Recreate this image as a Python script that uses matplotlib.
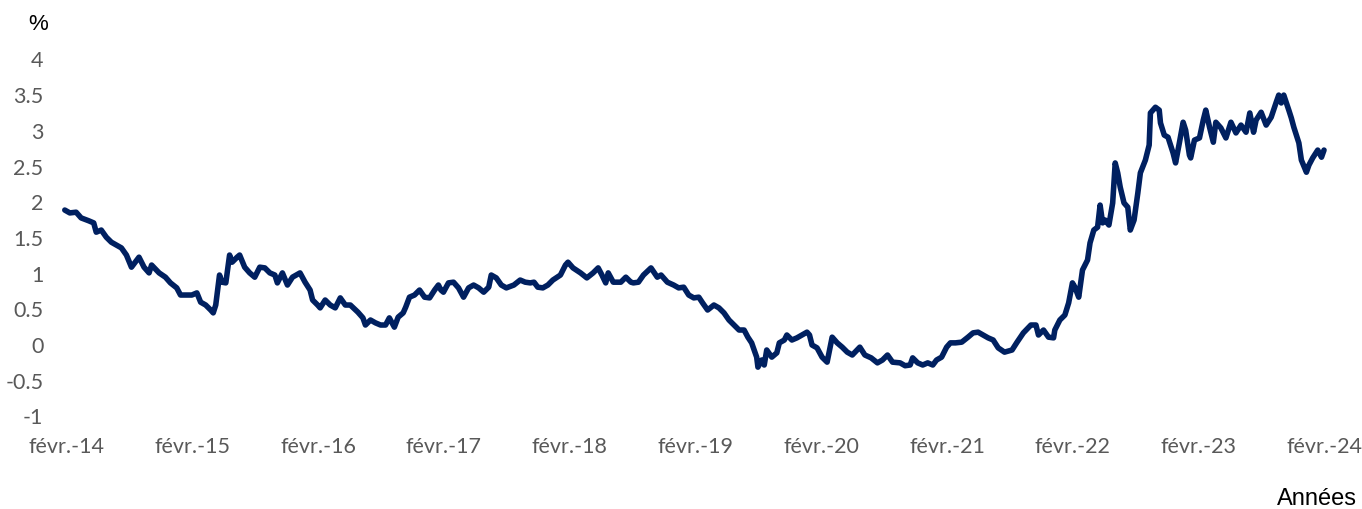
import matplotlib
matplotlib.use("Agg")
import matplotlib.pyplot as plt

# Decimal years and 10-year yield (%)
years = [
    2014.07, 2014.11, 2014.16, 2014.20, 2014.26, 2014.30, 2014.32, 2014.36, 2014.40, 2014.44,
    2014.48, 2014.52, 2014.56, 2014.60, 2014.66, 2014.70, 2014.74, 2014.76, 2014.82, 2014.87,
    2014.91, 2014.96, 2014.99, 2015.03, 2015.08, 2015.12, 2015.15, 2015.19, 2015.23, 2015.25,
    2015.27, 2015.30, 2015.32, 2015.35, 2015.38, 2015.40, 2015.44, 2015.46, 2015.50, 2015.54,
    2015.58, 2015.62, 2015.66, 2015.70, 2015.74, 2015.76, 2015.80, 2015.84, 2015.88, 2015.94,
    2015.98, 2016.02, 2016.04, 2016.08, 2016.10, 2016.14, 2016.18, 2016.22, 2016.26, 2016.30,
    2016.34, 2016.40, 2016.44, 2016.46, 2016.50, 2016.54, 2016.58, 2016.62, 2016.65, 2016.69,
    2016.72, 2016.76, 2016.78, 2016.81, 2016.85, 2016.89, 2016.93, 2016.97, 2017.01, 2017.04,
    2017.06, 2017.08, 2017.12, 2017.16, 2017.20, 2017.24, 2017.28, 2017.32, 2017.36, 2017.40,
    2017.44, 2017.46, 2017.50, 2017.54, 2017.58, 2017.64, 2017.69, 2017.73, 2017.77, 2017.80,
    2017.83, 2017.87, 2017.91, 2017.95, 2018.01, 2018.05, 2018.07, 2018.11, 2018.17, 2018.22,
    2018.27, 2018.31, 2018.34, 2018.37, 2018.39, 2018.43, 2018.49, 2018.53, 2018.57, 2018.59,
    2018.63, 2018.67, 2018.73, 2018.78, 2018.81, 2018.86, 2018.91, 2018.95, 2018.99, 2019.03,
    2019.07, 2019.11, 2019.14, 2019.18, 2019.23, 2019.27, 2019.31, 2019.35, 2019.39, 2019.43,
    2019.47, 2019.50, 2019.53, 2019.57, 2019.58, 2019.61, 2019.63, 2019.65, 2019.69, 2019.73,
    2019.75, 2019.79, 2019.81, 2019.85, 2019.89, 2019.93, 2019.97, 2019.99, 2020.01, 2020.05,
    2020.09, 2020.13, 2020.17, 2020.21, 2020.25, 2020.29, 2020.33, 2020.39, 2020.43, 2020.48,
    2020.53, 2020.57, 2020.61, 2020.65, 2020.71, 2020.75, 2020.79, 2020.81, 2020.85, 2020.89,
    2020.93, 2020.97, 2021.00, 2021.04, 2021.08, 2021.11, 2021.15, 2021.20, 2021.25, 2021.29,
    2021.33, 2021.37, 2021.41, 2021.45, 2021.49, 2021.54, 2021.60, 2021.64, 2021.69, 2021.75,
    2021.79, 2021.81, 2021.85, 2021.89, 2021.93, 2021.94, 2021.98, 2022.02, 2022.05, 2022.08,
    2022.10, 2022.13, 2022.16, 2022.20, 2022.22, 2022.25, 2022.28, 2022.30, 2022.32, 2022.34,
    2022.37, 2022.40, 2022.42, 2022.44, 2022.46, 2022.49, 2022.52, 2022.54, 2022.57, 2022.60,
    2022.62, 2022.66, 2022.69, 2022.70, 2022.74, 2022.77, 2022.78, 2022.81, 2022.84, 2022.88,
    2022.90, 2022.93, 2022.96, 2022.98, 2023.01, 2023.02, 2023.05, 2023.09, 2023.12, 2023.14,
    2023.17, 2023.20, 2023.22, 2023.26, 2023.30, 2023.34, 2023.38, 2023.42, 2023.46, 2023.49,
    2023.52, 2023.54, 2023.58, 2023.62, 2023.66, 2023.70, 2023.72, 2023.74, 2023.76, 2023.80,
    2023.82, 2023.84, 2023.88, 2023.90, 2023.94, 2023.96, 2023.99, 2024.03, 2024.06, 2024.08,
]
yields = [
    1.89, 1.85, 1.86, 1.78, 1.74, 1.71, 1.58, 1.61, 1.51, 1.44,
    1.40, 1.36, 1.26, 1.09, 1.23, 1.09, 1.01, 1.12, 1.01, 0.95,
    0.87, 0.80, 0.70, 0.70, 0.70, 0.73, 0.60, 0.56, 0.49, 0.45,
    0.56, 0.98, 0.88, 0.87, 1.26, 1.16, 1.23, 1.26, 1.09, 1.01,
    0.95, 1.09, 1.08, 1.01, 0.98, 0.87, 1.01, 0.84, 0.95, 1.01,
    0.88, 0.77, 0.63, 0.56, 0.52, 0.63, 0.56, 0.52, 0.66, 0.56,
    0.56, 0.46, 0.38, 0.28, 0.35, 0.31, 0.28, 0.28, 0.38, 0.25,
    0.39, 0.45, 0.53, 0.67, 0.70, 0.77, 0.67, 0.66, 0.77, 0.84,
    0.77, 0.74, 0.87, 0.88, 0.80, 0.67, 0.80, 0.84, 0.80, 0.74,
    0.81, 0.98, 0.94, 0.84, 0.80, 0.84, 0.91, 0.88, 0.87, 0.88,
    0.81, 0.80, 0.84, 0.91, 0.98, 1.12, 1.16, 1.08, 1.01, 0.94,
    1.01, 1.08, 0.98, 0.87, 1.01, 0.88, 0.88, 0.95, 0.88, 0.87,
    0.88, 0.98, 1.08, 0.95, 0.98, 0.88, 0.84, 0.80, 0.81, 0.70,
    0.66, 0.67, 0.59, 0.49, 0.56, 0.52, 0.45, 0.35, 0.28, 0.21,
    0.21, 0.11, 0.03, -0.17, -0.31, -0.21, -0.28, -0.07, -0.17, -0.11,
    0.03, 0.07, 0.14, 0.07, 0.10, 0.14, 0.18, 0.14, 0.00, -0.04,
    -0.17, -0.24, 0.11, 0.03, -0.03, -0.10, -0.14, -0.03, -0.14, -0.18,
    -0.25, -0.21, -0.14, -0.24, -0.25, -0.29, -0.28, -0.18, -0.25, -0.28,
    -0.25, -0.28, -0.21, -0.17, -0.03, 0.03, 0.03, 0.04, 0.11, 0.17,
    0.18, 0.14, 0.10, 0.07, -0.04, -0.10, -0.07, 0.04, 0.17, 0.28,
    0.28, 0.14, 0.21, 0.11, 0.10, 0.21, 0.35, 0.42, 0.59, 0.87,
    0.81, 0.67, 1.05, 1.19, 1.43, 1.61, 1.65, 1.96, 1.71, 1.75,
    1.68, 1.99, 2.55, 2.41, 2.21, 1.99, 1.93, 1.61, 1.75, 2.13,
    2.41, 2.59, 2.80, 3.25, 3.33, 3.29, 3.11, 2.94, 2.91, 2.69,
    2.55, 2.83, 3.12, 3.01, 2.66, 2.62, 2.87, 2.90, 3.15, 3.29,
    3.05, 2.84, 3.12, 3.04, 2.90, 3.12, 2.97, 3.08, 2.98, 3.25,
    2.98, 3.15, 3.26, 3.08, 3.19, 3.40, 3.50, 3.39, 3.50, 3.29,
    3.18, 3.05, 2.83, 2.59, 2.42, 2.52, 2.62, 2.73, 2.63, 2.73,
]

tick_years = list(range(2014, 2025))
tick_labels = ["févr.-%02d" % (y % 100) for y in tick_years]
y_ticks = [-1, -0.5, 0, 0.5, 1, 1.5, 2, 2.5, 3, 3.5, 4]
y_labels = ["-1", "-0.5", "0", "0.5", "1", "1.5", "2", "2.5", "3", "3.5", "4"]

fig = plt.figure(figsize=(13.62, 5.09), dpi=100)
ax = fig.add_axes([0.0411, 0.1819, 0.9421, 0.7014])

ax.plot(years, yields, color="#002060", linewidth=4.0,
        solid_joinstyle="round", solid_capstyle="round")

ax.set_xlim(2014.0, 2024.2)
ax.set_ylim(-1, 4)
ax.set_xticks([y + 1 / 12 for y in tick_years])
ax.set_xticklabels(tick_labels)
ax.set_yticks(y_ticks)
ax.set_yticklabels(y_labels)

for s in ax.spines.values():
    s.set_visible(False)
ax.tick_params(axis="both", length=0, labelsize=15.5, labelcolor="#595959")
ax.tick_params(axis="x", pad=15)
ax.tick_params(axis="y", pad=9)
for lab in ax.get_xticklabels() + ax.get_yticklabels():
    lab.set_fontfamily("Lato")

fig.text(38 / 1362, 1 - 25 / 509, "%", ha="center", va="center",
         fontsize=16, color="black", family="Liberation Sans")
fig.text(1357 / 1362, 1 - 499 / 509, "Années", ha="right", va="center",
         fontsize=17, color="black", family="Liberation Sans")

fig.savefig("out.png", dpi=100)
